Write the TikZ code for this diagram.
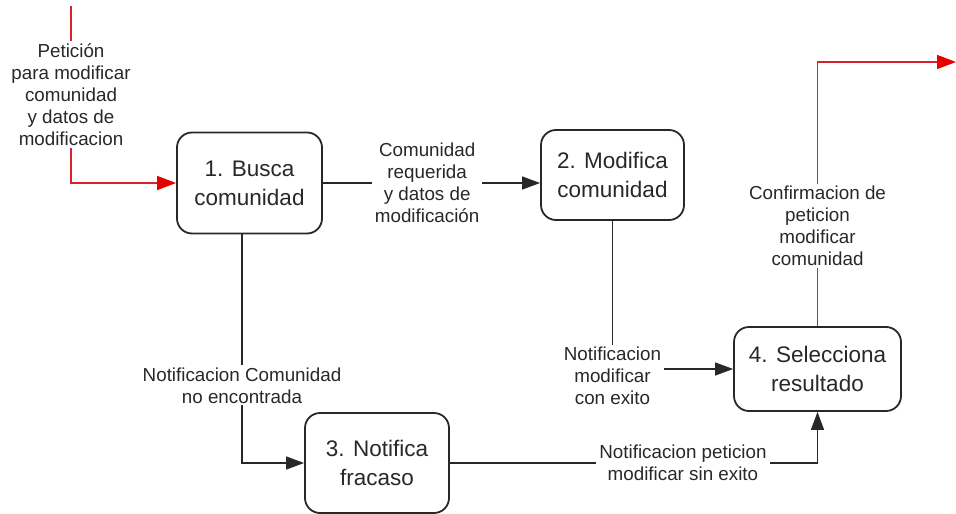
\documentclass[tikz,border=0pt]{standalone}
\usepackage{fontspec}
\setmainfont{Liberation Sans}
\usetikzlibrary{arrows.meta}
\definecolor{ink}{RGB}{40,40,40}
\definecolor{redline}{RGB}{215,35,45}
\definecolor{redhead}{RGB}{230,0,0}
\tikzset{
  procbox/.style={draw=ink, line width=1.8pt, rounded corners=15pt, fill=white,
    align=center, text=ink, font=\fontsize{22.5}{29}\selectfont, inner sep=0pt},
  flow/.style={draw=ink, line width=1.4pt, -{Triangle[length=18pt,width=13pt]}},
  redflow/.style={draw=redline, line width=1.4pt, -{Triangle[length=19pt,width=14pt,color=redhead]}},
  lbl/.style={fill=white, align=center, text=ink, inner xsep=3pt, inner ysep=2pt,
    font=\fontsize{18.8}{22}\selectfont},
}
\begin{document}
\begin{tikzpicture}[x=1pt,y=-1pt]
\useasboundingbox (0,0) rectangle (956,514);
\node[procbox, minimum width=145pt, minimum height=101pt] (b1) at (249.5,183) {1. Busca\\comunidad};
\node[procbox, minimum width=143pt, minimum height=90pt] (b2) at (612.5,175) {2. Modifica\\comunidad};
\node[procbox, minimum width=144pt, minimum height=100pt] (b3) at (377,463) {3. Notifica\\fracaso};
\node[procbox, minimum width=167pt, minimum height=84pt] (b4) at (817.5,369) {4. Selecciona\\resultado};
\coordinate (in) at (71,6);
\coordinate (out) at (956,62);
\draw[redflow] (in) |- (b1.west)
  node[lbl, pos=0.25] (l0) {Petición\\para modificar\\comunidad\\y datos de\\modificacion};
\draw[flow] (b1.east) -- (b1.east -| b2.west)
  node[lbl, pos=0.48] (l1) {Comunidad\\requerida\\y datos de\\modificación};
\draw[flow] ([xshift=-7.5pt]b1.south) |- (b3.west)
  node[lbl, pos=0.33] (l2) {Notificacion Comunidad\\no encontrada};
\draw[flow] (b2.south) |- (b4.west)
  node[lbl, pos=0.5, yshift=-7pt] (l3) {Notificacion\\modificar\\con exito};
\draw[flow] (b3.east) -| (b4.south)
  node[lbl, pos=0.317] (l4) {Notificacion peticion\\modificar sin exito};
\draw[redflow] (b4.north) |- (out)
  node[lbl, pos=0.19] (l5) {Confirmacion de\\peticion\\modificar\\comunidad};
\end{tikzpicture}
\end{document}
